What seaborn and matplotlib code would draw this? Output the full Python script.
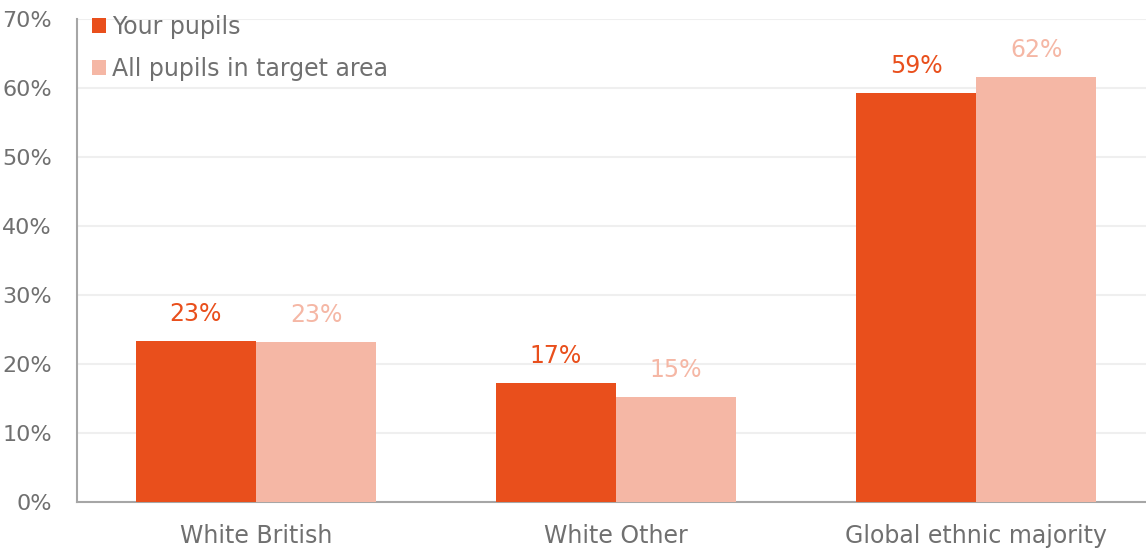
import matplotlib
matplotlib.use("Agg")
import matplotlib.pyplot as plt
import seaborn as sns
import pandas as pd
from matplotlib.patches import Patch
from matplotlib.ticker import FuncFormatter

categories = ["White British", "White Other", "Global ethnic majority"]
series_names = ["Your pupils", "All pupils in target area"]
your_pupils = [23.3, 17.2, 59.3]
all_pupils = [23.2, 15.2, 61.6]
y_ticks = [0, 10, 20, 30, 40, 50, 60, 70]

colors = ["#E94F1C", "#F5B7A5"]
text_color = "#707070"

df = pd.DataFrame({
    "category": categories * 2,
    "series": [series_names[0]] * 3 + [series_names[1]] * 3,
    "value": your_pupils + all_pupils,
})

sns.set_theme(style="white")
plt.rcParams["font.family"] = ["DejaVu Sans"]

fig = plt.figure(figsize=(11.46, 5.52), dpi=100)
ax = fig.add_axes([77 / 1146, 1 - 502 / 552, 1 - 77 / 1146, (502 - 19) / 552])

sns.barplot(data=df, x="category", y="value", hue="series", order=categories,
            hue_order=series_names, palette=colors, width=0.667, gap=0,
            saturation=1, legend=False, linewidth=0, edgecolor="none",
            ax=ax, zorder=3)

for container, col in zip(ax.containers, colors):
    ax.bar_label(container, labels=[f"{round(v.get_height())}%" for v in container],
                 padding=11, color=col, fontsize=17)

ax.set_ylim(0, 70)
ax.set_xlim(-0.497, 2.472)
ax.set_yticks(y_ticks)
ax.yaxis.set_major_formatter(FuncFormatter(lambda v, _: f"{int(v)}%"))
ax.grid(axis="y", color="#EFEFEF", linewidth=1.5, zorder=0)
ax.set_axisbelow(True)
ax.set_xlabel("")
ax.set_ylabel("")
ax.tick_params(axis="both", length=0, labelcolor=text_color)
ax.tick_params(axis="x", pad=16, labelsize=17)
ax.tick_params(axis="y", pad=18, labelsize=16)
for s in ["top", "right"]:
    ax.spines[s].set_visible(False)
for s in ["left", "bottom"]:
    ax.spines[s].set_color("#A6A6A6")
    ax.spines[s].set_linewidth(1.5)

handles = [Patch(facecolor=c, edgecolor="none") for c in colors]
leg = ax.legend(handles, series_names, loc="upper left", bbox_to_anchor=(0.0055, 1.0276),
                frameon=False, fontsize=17, handlelength=0.6, handleheight=0.6,
                handletextpad=0.22, labelspacing=0.75, borderaxespad=0)
for t in leg.get_texts():
    t.set_color(text_color)

fig.savefig("out.png", dpi=100)
